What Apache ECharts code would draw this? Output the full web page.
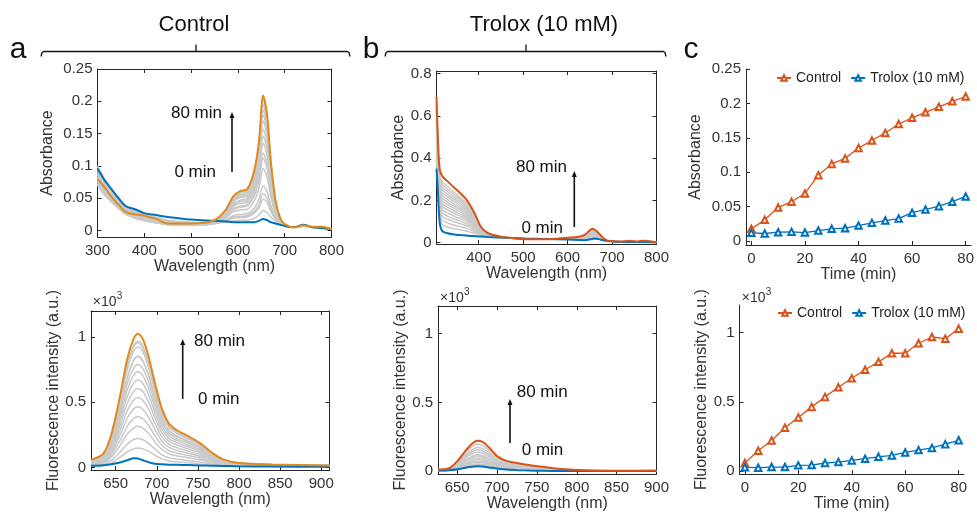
<!DOCTYPE html>
<html>
<head>
<meta charset="utf-8">
<script src="https://cdn.jsdelivr.net/npm/echarts@6/dist/echarts.min.js"></script>
<style>
html,body{margin:0;padding:0;background:#fff;}
#c{width:977px;height:513px;}
</style>
</head>
<body>
<div id="c"></div>
<script>
// ---------- Panel a (Control): absorbance spectra ----------
const wlAbsCtrl = [300,315,330,345,360,380,400,425,450,500,550,575,590,605,620,635,645,654,662,670,680,690,700,720,740,760,780,800];
const absCtrl0  = [0.096,0.078,0.064,0.05,0.038,0.033,0.027,0.024,0.021,0.017,0.015,0.014,0.013,0.013,0.013,0.013,0.015,0.018,0.016,0.013,0.011,0.009,0.007,0.005,0.009,0.005,0.004,0.002];
const absCtrl80 = [0.08,0.067,0.052,0.04,0.029,0.025,0.023,0.018,0.011,0.011,0.016,0.033,0.053,0.061,0.064,0.093,0.138,0.209,0.182,0.11,0.048,0.02,0.01,0.005,0.008,0.006,0.006,0.002];
const absCtrlGray = [
 [0.1,0.08,0.063,0.048,0.037,0.031,0.026,0.021,0.016,0.013,0.012,0.013,0.015,0.016,0.016,0.019,0.024,0.031,0.028,0.021,0.015,0.012,0.008,0.005,0.007,0.005,0.004,0.002],
 [0.098,0.078,0.061,0.047,0.036,0.03,0.025,0.02,0.015,0.012,0.012,0.015,0.019,0.02,0.021,0.027,0.035,0.049,0.044,0.03,0.018,0.013,0.008,0.005,0.007,0.005,0.004,0.002],
 [0.095,0.076,0.06,0.046,0.035,0.029,0.024,0.019,0.015,0.012,0.011,0.016,0.021,0.022,0.023,0.03,0.04,0.057,0.051,0.034,0.019,0.013,0.008,0.005,0.007,0.005,0.004,0.002],
 [0.093,0.074,0.058,0.045,0.034,0.028,0.023,0.018,0.014,0.011,0.011,0.017,0.023,0.025,0.026,0.035,0.048,0.069,0.061,0.04,0.022,0.013,0.008,0.005,0.007,0.005,0.004,0.002],
 [0.09,0.072,0.057,0.044,0.034,0.027,0.022,0.017,0.013,0.011,0.011,0.02,0.029,0.032,0.033,0.046,0.065,0.096,0.084,0.053,0.027,0.014,0.008,0.005,0.007,0.005,0.004,0.002],
 [0.088,0.07,0.055,0.043,0.033,0.026,0.021,0.017,0.013,0.01,0.011,0.022,0.032,0.036,0.038,0.053,0.076,0.112,0.098,0.061,0.029,0.015,0.008,0.005,0.007,0.005,0.004,0.002],
 [0.086,0.068,0.054,0.042,0.032,0.025,0.02,0.016,0.012,0.01,0.011,0.023,0.034,0.038,0.04,0.056,0.081,0.12,0.105,0.065,0.031,0.015,0.008,0.005,0.007,0.005,0.004,0.002],
 [0.084,0.066,0.052,0.041,0.031,0.024,0.019,0.015,0.012,0.009,0.011,0.024,0.037,0.042,0.044,0.062,0.09,0.135,0.118,0.073,0.034,0.016,0.008,0.005,0.007,0.005,0.004,0.002],
 [0.082,0.064,0.051,0.04,0.03,0.024,0.019,0.015,0.011,0.009,0.011,0.025,0.039,0.045,0.047,0.066,0.097,0.146,0.128,0.078,0.036,0.016,0.008,0.005,0.007,0.005,0.004,0.002],
 [0.08,0.062,0.05,0.039,0.029,0.023,0.018,0.014,0.011,0.009,0.012,0.027,0.041,0.047,0.05,0.071,0.104,0.157,0.137,0.084,0.038,0.017,0.008,0.005,0.007,0.005,0.004,0.002],
 [0.078,0.06,0.048,0.038,0.029,0.022,0.017,0.013,0.01,0.008,0.012,0.028,0.044,0.051,0.053,0.076,0.113,0.17,0.148,0.09,0.04,0.017,0.008,0.005,0.007,0.005,0.004,0.002],
 [0.076,0.058,0.047,0.037,0.028,0.021,0.017,0.013,0.01,0.008,0.012,0.029,0.046,0.053,0.055,0.08,0.119,0.179,0.156,0.094,0.042,0.018,0.008,0.005,0.007,0.005,0.004,0.002],
 [0.074,0.057,0.046,0.036,0.027,0.02,0.016,0.012,0.01,0.008,0.012,0.03,0.048,0.055,0.057,0.083,0.124,0.187,0.163,0.098,0.043,0.018,0.008,0.005,0.007,0.005,0.004,0.002],
 [0.072,0.056,0.045,0.035,0.026,0.02,0.016,0.012,0.009,0.008,0.012,0.031,0.049,0.057,0.06,0.087,0.129,0.195,0.17,0.102,0.045,0.018,0.008,0.005,0.007,0.005,0.004,0.002],
 [0.07,0.055,0.044,0.034,0.025,0.019,0.015,0.012,0.009,0.008,0.013,0.032,0.051,0.059,0.062,0.09,0.134,0.203,0.177,0.106,0.046,0.019,0.008,0.005,0.007,0.005,0.004,0.002]
];

// ---------- Panel a (Control): fluorescence spectra (x10^3 a.u.) ----------
const wlFlCtrl = [620,635,645,655,664,672,677,683,690,698,706,715,725,738,752,766,780,800,840,910];
const flCtrl0  = [0.013,0.017,0.024,0.038,0.055,0.07,0.068,0.055,0.04,0.028,0.024,0.021,0.02,0.018,0.015,0.013,0.011,0.008,0.006,0.005];
const flCtrl80 = [0.058,0.105,0.26,0.538,0.83,0.99,1.025,0.985,0.85,0.64,0.455,0.335,0.283,0.24,0.188,0.118,0.063,0.033,0.023,0.015];
const flCtrlGray = [
 [0.012,0.015,0.037,0.077,0.12,0.143,0.148,0.142,0.123,0.092,0.065,0.049,0.041,0.035,0.027,0.017,0.012,0.012,0.012,0.012],
 [0.013,0.022,0.056,0.115,0.18,0.214,0.222,0.213,0.184,0.138,0.098,0.073,0.062,0.052,0.041,0.026,0.014,0.012,0.012,0.012],
 [0.018,0.032,0.079,0.164,0.255,0.304,0.315,0.302,0.261,0.195,0.139,0.104,0.088,0.074,0.058,0.037,0.019,0.012,0.012,0.012],
 [0.022,0.039,0.097,0.202,0.315,0.376,0.389,0.373,0.323,0.241,0.171,0.128,0.109,0.091,0.072,0.046,0.024,0.012,0.012,0.012],
 [0.027,0.047,0.116,0.242,0.377,0.449,0.465,0.446,0.386,0.288,0.205,0.153,0.13,0.109,0.086,0.054,0.028,0.015,0.012,0.012],
 [0.031,0.054,0.134,0.279,0.435,0.519,0.537,0.516,0.446,0.333,0.236,0.177,0.15,0.126,0.099,0.063,0.033,0.017,0.012,0.012],
 [0.035,0.061,0.152,0.315,0.491,0.585,0.606,0.582,0.503,0.376,0.267,0.2,0.17,0.142,0.112,0.071,0.037,0.019,0.013,0.012],
 [0.038,0.067,0.168,0.349,0.544,0.648,0.671,0.644,0.557,0.416,0.295,0.221,0.188,0.158,0.124,0.079,0.041,0.021,0.015,0.012],
 [0.042,0.073,0.183,0.381,0.594,0.708,0.733,0.704,0.608,0.454,0.323,0.242,0.205,0.172,0.136,0.086,0.045,0.023,0.016,0.012],
 [0.045,0.079,0.198,0.411,0.64,0.763,0.79,0.758,0.656,0.49,0.348,0.261,0.221,0.186,0.146,0.092,0.048,0.025,0.017,0.012],
 [0.049,0.085,0.213,0.443,0.69,0.823,0.852,0.818,0.707,0.528,0.375,0.281,0.239,0.2,0.158,0.1,0.052,0.027,0.019,0.013],
 [0.048,0.084,0.212,0.441,0.688,0.822,0.851,0.817,0.706,0.527,0.374,0.28,0.238,0.2,0.157,0.099,0.052,0.027,0.019,0.013],
 [0.053,0.092,0.231,0.48,0.748,0.893,0.924,0.887,0.767,0.573,0.407,0.305,0.259,0.217,0.171,0.108,0.056,0.03,0.02,0.014],
 [0.055,0.097,0.242,0.504,0.785,0.936,0.969,0.93,0.804,0.601,0.426,0.32,0.271,0.228,0.179,0.113,0.059,0.031,0.021,0.015],
 [0.055,0.096,0.239,0.498,0.775,0.924,0.957,0.919,0.794,0.593,0.421,0.316,0.268,0.225,0.177,0.112,0.058,0.031,0.021,0.014]
];

// ---------- Panel b (Trolox 10 mM): absorbance spectra ----------
const wlAbsTro = [305,308,312,318,330,345,360,372,384,395,405,420,445,475,505,550,600,625,640,648,655,662,670,680,690,720,740,757,767,800];
const absTro0  = [0.35,0.25,0.1,0.055,0.045,0.039,0.036,0.034,0.032,0.031,0.029,0.027,0.025,0.022,0.02,0.018,0.015,0.013,0.012,0.015,0.018,0.02,0.017,0.012,0.008,0.004,0.004,0.003,0.003,0.001];
const absTro80 = [0.69,0.5,0.35,0.315,0.29,0.26,0.232,0.205,0.165,0.12,0.075,0.046,0.031,0.022,0.017,0.017,0.024,0.028,0.04,0.055,0.066,0.06,0.045,0.022,0.01,0.006,0.009,0.006,0.009,0.002];
const absTroGray = [
 [0.391,0.28,0.13,0.086,0.074,0.066,0.06,0.055,0.048,0.042,0.035,0.029,0.026,0.022,0.018,0.017,0.018,0.018,0.017,0.018,0.019,0.019,0.017,0.012,0.008,0.005,0.006,0.005,0.006,0.002],
 [0.418,0.3,0.15,0.107,0.094,0.083,0.075,0.068,0.059,0.049,0.038,0.031,0.026,0.022,0.018,0.017,0.018,0.018,0.017,0.018,0.02,0.02,0.017,0.012,0.008,0.005,0.006,0.005,0.006,0.002],
 [0.442,0.318,0.168,0.125,0.111,0.099,0.089,0.08,0.068,0.055,0.041,0.032,0.027,0.022,0.018,0.017,0.018,0.018,0.018,0.019,0.021,0.021,0.018,0.012,0.008,0.005,0.006,0.005,0.006,0.002],
 [0.462,0.333,0.183,0.141,0.126,0.112,0.101,0.09,0.076,0.06,0.044,0.033,0.027,0.022,0.018,0.017,0.018,0.019,0.018,0.02,0.022,0.022,0.019,0.012,0.008,0.005,0.006,0.005,0.006,0.002],
 [0.483,0.348,0.198,0.156,0.141,0.125,0.112,0.101,0.084,0.066,0.047,0.034,0.027,0.022,0.018,0.017,0.018,0.019,0.019,0.022,0.024,0.023,0.02,0.013,0.008,0.005,0.006,0.005,0.006,0.002],
 [0.503,0.363,0.213,0.172,0.155,0.138,0.124,0.111,0.092,0.071,0.05,0.036,0.028,0.022,0.018,0.017,0.018,0.019,0.02,0.023,0.026,0.025,0.021,0.013,0.008,0.005,0.006,0.005,0.006,0.002],
 [0.52,0.375,0.225,0.185,0.168,0.15,0.134,0.12,0.099,0.076,0.052,0.037,0.028,0.022,0.018,0.017,0.018,0.02,0.021,0.025,0.028,0.027,0.022,0.013,0.008,0.005,0.006,0.005,0.006,0.002],
 [0.537,0.388,0.238,0.198,0.18,0.161,0.144,0.128,0.105,0.08,0.054,0.037,0.028,0.022,0.018,0.017,0.018,0.02,0.023,0.028,0.032,0.03,0.025,0.014,0.008,0.005,0.006,0.005,0.006,0.002],
 [0.554,0.4,0.25,0.211,0.192,0.172,0.154,0.137,0.112,0.084,0.057,0.038,0.029,0.022,0.018,0.017,0.018,0.021,0.024,0.031,0.036,0.034,0.027,0.015,0.008,0.005,0.006,0.005,0.006,0.002],
 [0.571,0.413,0.263,0.224,0.204,0.183,0.163,0.145,0.118,0.089,0.059,0.039,0.029,0.022,0.018,0.017,0.018,0.022,0.026,0.034,0.04,0.037,0.029,0.015,0.008,0.005,0.006,0.005,0.006,0.002],
 [0.588,0.425,0.275,0.237,0.217,0.194,0.173,0.154,0.125,0.093,0.061,0.04,0.029,0.022,0.018,0.017,0.018,0.022,0.028,0.037,0.044,0.041,0.032,0.016,0.009,0.005,0.006,0.005,0.006,0.002],
 [0.605,0.438,0.288,0.25,0.229,0.205,0.183,0.162,0.132,0.098,0.064,0.041,0.03,0.022,0.018,0.017,0.018,0.023,0.03,0.041,0.049,0.045,0.035,0.017,0.009,0.005,0.006,0.005,0.006,0.002],
 [0.622,0.45,0.3,0.263,0.241,0.216,0.193,0.171,0.138,0.102,0.066,0.042,0.03,0.022,0.018,0.017,0.018,0.024,0.032,0.044,0.053,0.049,0.037,0.017,0.009,0.005,0.006,0.005,0.006,0.002],
 [0.639,0.463,0.313,0.276,0.253,0.227,0.203,0.179,0.145,0.107,0.068,0.043,0.03,0.022,0.018,0.017,0.018,0.024,0.033,0.047,0.057,0.052,0.039,0.018,0.009,0.005,0.006,0.005,0.006,0.002],
 [0.656,0.475,0.325,0.289,0.266,0.238,0.212,0.188,0.152,0.111,0.07,0.044,0.03,0.022,0.018,0.017,0.018,0.025,0.035,0.05,0.061,0.056,0.042,0.018,0.009,0.005,0.006,0.005,0.006,0.002]
];

// ---------- Panel b (Trolox 10 mM): fluorescence spectra (x10^3 a.u.) ----------
const wlFlTro = [626,640,650,660,668,675,682,690,700,712,725,740,760,780,810,850,900];
const flTro0  = [0.005,0.007,0.014,0.025,0.033,0.036,0.034,0.028,0.02,0.012,0.008,0.005,0.003,0.002,0.001,0.001,0.001];
const flTro80 = [0.012,0.022,0.072,0.145,0.196,0.222,0.213,0.172,0.11,0.075,0.06,0.045,0.03,0.017,0.007,0.004,0.005];
const flTroGray = [
 [0.005,0.007,0.014,0.025,0.033,0.037,0.035,0.028,0.02,0.013,0.01,0.007,0.005,0.003,0.001,0.001,0.001],
 [0.005,0.007,0.014,0.026,0.034,0.039,0.037,0.03,0.02,0.013,0.011,0.008,0.005,0.003,0.001,0.001,0.001],
 [0.005,0.007,0.014,0.027,0.035,0.04,0.038,0.031,0.02,0.014,0.011,0.008,0.005,0.003,0.001,0.001,0.001],
 [0.005,0.007,0.016,0.034,0.044,0.05,0.047,0.038,0.025,0.017,0.014,0.01,0.007,0.004,0.002,0.001,0.001],
 [0.005,0.007,0.017,0.036,0.047,0.053,0.05,0.041,0.026,0.018,0.014,0.011,0.007,0.004,0.002,0.001,0.001],
 [0.005,0.007,0.021,0.045,0.058,0.066,0.062,0.051,0.033,0.022,0.018,0.013,0.009,0.005,0.002,0.001,0.001],
 [0.005,0.007,0.023,0.049,0.064,0.073,0.069,0.056,0.036,0.025,0.02,0.015,0.01,0.005,0.003,0.001,0.002],
 [0.005,0.009,0.027,0.057,0.075,0.085,0.08,0.065,0.042,0.029,0.023,0.017,0.011,0.006,0.003,0.002,0.002],
 [0.005,0.01,0.031,0.066,0.086,0.097,0.092,0.074,0.048,0.033,0.026,0.019,0.013,0.007,0.003,0.002,0.002],
 [0.006,0.011,0.035,0.074,0.097,0.11,0.104,0.084,0.054,0.037,0.03,0.022,0.015,0.008,0.004,0.002,0.002],
 [0.006,0.012,0.038,0.081,0.106,0.12,0.114,0.092,0.059,0.041,0.032,0.024,0.016,0.009,0.004,0.002,0.002],
 [0.008,0.014,0.044,0.095,0.124,0.14,0.132,0.107,0.069,0.047,0.038,0.028,0.019,0.01,0.005,0.003,0.003],
 [0.008,0.016,0.049,0.106,0.139,0.157,0.149,0.12,0.078,0.053,0.042,0.031,0.021,0.011,0.006,0.003,0.003],
 [0.009,0.017,0.054,0.117,0.153,0.173,0.164,0.133,0.086,0.058,0.047,0.035,0.023,0.012,0.006,0.003,0.003],
 [0.011,0.02,0.062,0.134,0.175,0.198,0.187,0.152,0.098,0.067,0.053,0.04,0.027,0.014,0.007,0.004,0.004]
];

// ---------- Panel c: kinetics ----------
const timeMin = [0,5,10,15,20,25,30,35,40,45,50,55,60,65,70,75,80];
const absTimeCtrl = [0.0175,0.0306,0.0485,0.057,0.069,0.0956,0.112,0.12,0.135,0.146,0.157,0.17,0.179,0.187,0.195,0.203,0.21];
const absTimeTro  = [0.0117,0.0107,0.0126,0.0131,0.0121,0.015,0.0175,0.0184,0.0223,0.0262,0.0296,0.0325,0.041,0.0456,0.0505,0.057,0.0646];
const flTimeCtrl  = [0.06,0.148,0.222,0.315,0.389,0.465,0.537,0.606,0.671,0.733,0.79,0.852,0.852,0.924,0.969,0.957,1.029];
const flTimeTro   = [0.029,0.026,0.031,0.031,0.043,0.045,0.06,0.067,0.079,0.091,0.105,0.115,0.136,0.153,0.169,0.196,0.224];

// tick labels
const ticksWl300 = [300,400,500,600,700,800];
const ticksWl400 = [400,500,600,700,800];
const ticksWlFl = [650,700,750,800,850,900];
const ticksAbsCtrl = [0,0.05,0.1,0.15,0.2,0.25];
const ticksAbsTro = [0,0.2,0.4,0.6,0.8];
const ticksFl = [0,0.5,1];
const ticksTime = [0,20,40,60,80];
const legendNames = ['Control','Trolox (10 mM)'];

// ---------- styling ----------
const FONT = '"Liberation Sans", Arial, Helvetica, sans-serif';
const AXC = '#262626';
const TXT = '#333333';
const GRAY = '#c9c9c9';
const BLUE = '#0072BD';
const ORANGE_A = '#E08A1E';
const RED = '#D95319';

const chart = echarts.init(document.getElementById('c'), null, {renderer: 'canvas'});

const grids = [
  {left: 97.5, top: 69, width: 234, height: 168},
  {left: 91, top: 311, width: 238.5, height: 159},
  {left: 436.5, top: 71, width: 220, height: 173},
  {left: 438, top: 306, width: 218.5, height: 168},
  {left: 746, top: 69, width: 229, height: 176},
  {left: 739.5, top: 305, width: 224.5, height: 171.5}
];

function fmt(v){ return String(+(+v).toFixed(3)); }

function xAx(gi, min, max, ticks, pos, name, gap, labels){
  return {
    type: 'value', gridIndex: gi, min, max, position: pos,
    axisLine: {show: true, onZero: false, lineStyle: {color: AXC, width: 1}},
    axisTick: {show: true, inside: true, length: 4, customValues: ticks, lineStyle: {color: AXC}},
    axisLabel: {show: labels, customValues: ticks, color: TXT, fontSize: 15, fontFamily: FONT, margin: 6, formatter: fmt},
    splitLine: {show: false},
    name: labels ? name : '', nameLocation: 'middle', nameGap: gap,
    nameTextStyle: {color: TXT, fontSize: 16, fontFamily: FONT}
  };
}
function yAx(gi, min, max, ticks, pos, name, gap, labels){
  return {
    type: 'value', gridIndex: gi, min, max, position: pos,
    axisLine: {show: true, onZero: false, lineStyle: {color: AXC, width: 1}},
    axisTick: {show: true, inside: true, length: 4, customValues: ticks, lineStyle: {color: AXC}},
    axisLabel: {show: labels, customValues: ticks, color: TXT, fontSize: 15, fontFamily: FONT, margin: 5, formatter: fmt},
    splitLine: {show: false},
    name: labels ? name : '', nameLocation: 'middle', nameGap: gap, nameRotate: 90,
    nameTextStyle: {color: TXT, fontSize: 16, fontFamily: FONT}
  };
}

const xAxis = [
  xAx(0, 300, 800, ticksWl300, 'bottom', 'Wavelength (nm)', 20, true),
  xAx(0, 300, 800, ticksWl300, 'top', '', 0, false),
  xAx(1, 620, 910, ticksWlFl, 'bottom', 'Wavelength (nm)', 22, true),
  xAx(1, 620, 910, ticksWlFl, 'top', '', 0, false),
  xAx(2, 305, 800, ticksWl400, 'bottom', 'Wavelength (nm)', 21, true),
  xAx(2, 305, 800, ticksWl400, 'top', '', 0, false),
  xAx(3, 626, 900, ticksWlFl, 'bottom', 'Wavelength (nm)', 19, true),
  xAx(3, 626, 900, ticksWlFl, 'top', '', 0, false),
  xAx(4, -2, 82, ticksTime, 'bottom', 'Time (min)', 20, true),
  xAx(5, -2, 82, ticksTime, 'bottom', 'Time (min)', 20, true)
];
const yAxis = [
  yAx(0, -0.01, 0.25, ticksAbsCtrl, 'left', 'Absorbance', 42, true),
  yAx(0, -0.01, 0.25, ticksAbsCtrl, 'right', '', 0, false),
  yAx(1, -0.02, 1.2, ticksFl, 'left', 'Fluorescence intensity (a.u.)', 25, true),
  yAx(1, -0.02, 1.2, ticksFl, 'right', '', 0, false),
  yAx(2, -0.006, 0.812, ticksAbsTro, 'left', 'Absorbance', 29, true),
  yAx(2, -0.006, 0.812, ticksAbsTro, 'right', '', 0, false),
  yAx(3, -0.02, 1.2, ticksFl, 'left', 'Fluorescence intensity (a.u.)', 23, true),
  yAx(3, -0.02, 1.2, ticksFl, 'right', '', 0, false),
  yAx(4, -0.006, 0.25, ticksAbsCtrl, 'left', 'Absorbance', 42, true),
  yAx(5, -0.02, 1.2, ticksFl, 'left', 'Fluorescence intensity (a.u.)', 26, true)
];

function spectrum(name, wl, vals, color, width, axisIdx, z){
  return {
    type: 'line', name, xAxisIndex: axisIdx, yAxisIndex: axisIdx,
    data: wl.map((w, i) => [w, vals[i]]),
    showSymbol: false, symbol: 'none', smooth: 0.3, clip: true,
    lineStyle: {color, width}, itemStyle: {color}, z, silent: true
  };
}
function kinetic(name, vals, color, axisIdx){
  return {
    type: 'line', name, xAxisIndex: axisIdx, yAxisIndex: axisIdx,
    data: timeMin.map((t, i) => [t, vals[i]]),
    symbol: 'emptyTriangle', symbolSize: 6.5, showSymbol: true,
    lineStyle: {color, width: 1.3}, itemStyle: {color, borderWidth: 1}, z: 3, silent: true
  };
}

const series = [];
absCtrlGray.forEach((g, k) => series.push(spectrum('aAbs' + (k + 1) * 5, wlAbsCtrl, g, GRAY, 1.5, 0, 2)));
series.push(spectrum('aAbs0', wlAbsCtrl, absCtrl0, BLUE, 2, 0, 3));
series.push(spectrum('aAbs80', wlAbsCtrl, absCtrl80, ORANGE_A, 2, 0, 4));
flCtrlGray.forEach((g, k) => series.push(spectrum('aFl' + (k + 1) * 5, wlFlCtrl, g, GRAY, 1.5, 2, 2)));
series.push(spectrum('aFl0', wlFlCtrl, flCtrl0, BLUE, 2, 2, 3));
series.push(spectrum('aFl80', wlFlCtrl, flCtrl80, ORANGE_A, 2, 2, 4));
absTroGray.forEach((g, k) => series.push(spectrum('bAbs' + (k + 1) * 5, wlAbsTro, g, GRAY, 1.5, 4, 2)));
series.push(spectrum('bAbs0', wlAbsTro, absTro0, BLUE, 2, 4, 3));
series.push(spectrum('bAbs80', wlAbsTro, absTro80, RED, 2, 4, 4));
flTroGray.forEach((g, k) => series.push(spectrum('bFl' + (k + 1) * 5, wlFlTro, g, GRAY, 1.5, 6, 2)));
series.push(spectrum('bFl0', wlFlTro, flTro0, BLUE, 2, 6, 3));
series.push(spectrum('bFl80', wlFlTro, flTro80, RED, 2, 6, 4));
series.push(kinetic(legendNames[0], absTimeCtrl, RED, 8));
series.push(kinetic(legendNames[1], absTimeTro, BLUE, 8));
series.push(kinetic(legendNames[0], flTimeCtrl, RED, 9));
series.push(kinetic(legendNames[1], flTimeTro, BLUE, 9));

const legendBase = {
  data: legendNames, orient: 'horizontal', itemWidth: 14, itemHeight: 7, itemGap: 9,
  padding: 0, width: 260,
  textStyle: {color: '#222', fontSize: 14, fontFamily: FONT}, selectedMode: false
};

// ---------- annotations ----------
const BLK = '#111';
function arrow(x, y0, y1){
  return [
    {type: 'line', shape: {x1: x, y1: y0, x2: x, y2: y1 + 4}, style: {stroke: BLK, lineWidth: 1.6}, silent: true},
    {type: 'polygon', shape: {points: [[x, y1], [x - 2.5, y1 + 6], [x + 2.5, y1 + 6]]}, style: {fill: BLK}, silent: true}
  ];
}
function txt(x, y, s, size, align){
  return {type: 'text', x, y, style: {text: s, fontSize: size, fontFamily: FONT, fill: '#111', align: align || 'center', verticalAlign: 'middle'}, silent: true};
}
function times10(x, y){
  return [
    {type: 'text', x, y, style: {text: '×10', fontSize: 14, fontFamily: FONT, fill: TXT, align: 'left', verticalAlign: 'middle'}, silent: true},
    {type: 'text', x: x + 24, y: y - 6, style: {text: '3', fontSize: 10, fontFamily: FONT, fill: TXT, align: 'left', verticalAlign: 'middle'}, silent: true}
  ];
}
function bracket(x0, x1, xc, y){
  return [
    {type: 'polyline', shape: {points: [[x0, y + 5], [x0 + 1, y + 1], [x0 + 3, y], [x1 - 3, y], [x1 - 1, y + 1], [x1, y + 5]]}, style: {stroke: BLK, lineWidth: 1.3, fill: null}, silent: true},
    {type: 'line', shape: {x1: xc, y1: y, x2: xc, y2: y - 7}, style: {stroke: BLK, lineWidth: 1.3}, silent: true}
  ];
}

const graphic = [].concat(
  txt(18, 50, 'a', 30),
  txt(371, 50, 'b', 30),
  txt(691, 50, 'c', 30),
  txt(194, 25, 'Control', 22),
  txt(544, 25, 'Trolox (10 mM)', 22),
  bracket(41, 350, 196, 51.5),
  bracket(385, 666, 526, 51.5),
  txt(222, 113, '80 min', 17, 'right'),
  txt(216, 172, '0 min', 17, 'right'),
  arrow(232, 172, 112),
  txt(194, 341, '80 min', 17, 'left'),
  txt(198, 399, '0 min', 17, 'left'),
  arrow(182.7, 399, 339),
  txt(567, 167, '80 min', 17, 'right'),
  txt(563, 228, '0 min', 17, 'right'),
  arrow(574.3, 227, 171),
  txt(516.7, 392, '80 min', 17, 'left'),
  txt(521.7, 450, '0 min', 17, 'left'),
  arrow(510, 443, 399),
  times10(92.7, 302),
  times10(440, 298.5),
  times10(741.7, 298.5)
);

chart.setOption({
  animation: false,
  backgroundColor: '#ffffff',
  grid: grids,
  xAxis, yAxis, series,
  legend: [
    Object.assign({}, legendBase, {left: 776, top: 71}),
    Object.assign({}, legendBase, {left: 777, top: 306})
  ],
  graphic
});
</script>
</body>
</html>
